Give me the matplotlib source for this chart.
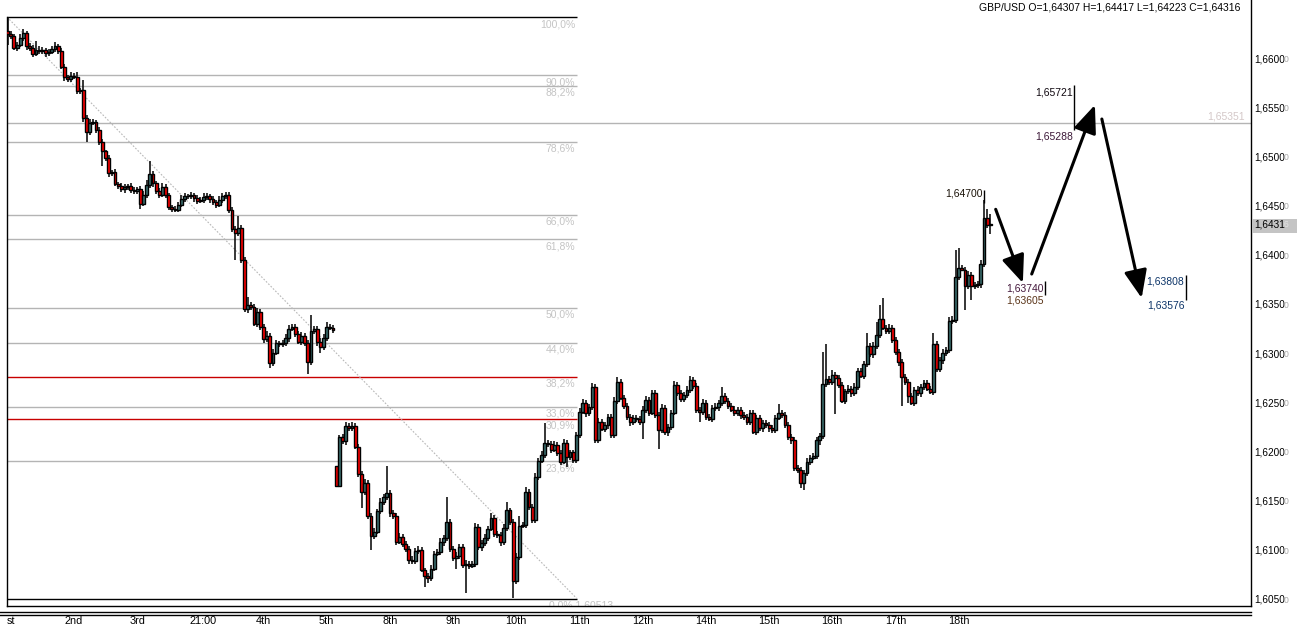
import numpy as np
import matplotlib
matplotlib.use("Agg")
import matplotlib.pyplot as plt
from matplotlib.transforms import blended_transform_factory
from matplotlib.lines import Line2D
from matplotlib.patches import Rectangle

plt.rcParams['font.family'] = ['Liberation Sans', 'DejaVu Sans']

# ---------------- data (prices in pips of 0.0001) ----------------
symbol = "GBP/USD"
last_ohlc = ("1,64307", "1,64417", "1,64223", "1,64316")

opens = [
    16628,16625,16623,16611,16614,16621,16626,16613,16611,16605,16609,16608,16609,16606,16607,16610,16613,16608,16592,16582,
    16580,16583,16582,16567,16569,16540,16526,16535,16536,16528,16516,16506,16499,16484,16485,16473,16471,16468,16470,16471,
    16467,16466,16468,16453,16462,16472,16483,16474,16466,16462,16470,16462,16450,16448,16447,16452,16458,16461,16461,16462,
    16459,16456,16457,16460,16461,16458,16455,16452,16457,16461,16462,16447,16427,16423,16428,16396,16346,16350,16348,16331,
    16343,16328,16315,16318,16291,16301,16311,16310,16311,16316,16326,16328,16320,16312,16318,16311,16292,16323,16326,16312,
    16307,16316,16328,16327,16186,16166,16216,16212,16227,16225,16227,16206,16178,16160,16169,16135,16115,16119,16140,16150,
    16155,16159,16138,16135,16109,16114,16107,16102,16091,16090,16100,16101,16080,16074,16072,16082,16097,16099,16109,16113,
    16129,16102,16093,16095,16104,16086,16087,16085,16087,16124,16104,16108,16113,16122,16133,16117,16116,16109,16123,16141,
    16129,16069,16094,16125,16126,16160,16145,16131,16175,16191,16197,16210,16209,16203,16208,16199,16190,16210,16195,16200,
    16192,16218,16241,16250,16240,16246,16267,16213,16231,16224,16228,16236,16218,16252,16272,16255,16247,16236,16231,16235,
    16234,16231,16243,16253,16240,16260,16238,16223,16245,16221,16226,16240,16269,16260,16254,16258,16264,16274,16268,16243,
    16241,16250,16236,16234,16245,16246,16250,16257,16252,16247,16243,16240,16243,16238,16236,16231,16240,16221,16235,16225,
    16230,16228,16225,16223,16235,16240,16238,16228,16216,16213,16184,16182,16169,16179,16190,16194,16196,16213,16217,16270,
    16275,16272,16279,16276,16269,16252,16262,16265,16260,16267,16283,16278,16290,16308,16300,16308,16319,16336,16327,16323,
    16327,16314,16302,16292,16277,16272,16257,16250,16264,16260,16267,16271,16265,16261,16310,16285,16294,16301,16304,16334,
    16335,16378,16388,16386,16369,16380,16369,16370,16371,16392,16438,16431]

closes = [
    16625,16623,16611,16614,16621,16626,16613,16611,16605,16609,16608,16609,16606,16607,16610,16613,16608,16592,16582,16580,
    16583,16582,16567,16569,16540,16526,16535,16536,16528,16516,16506,16499,16484,16485,16473,16471,16468,16470,16471,16467,
    16466,16468,16453,16462,16472,16483,16474,16466,16462,16470,16462,16450,16448,16447,16452,16458,16461,16461,16462,16459,
    16456,16457,16460,16461,16458,16455,16452,16457,16461,16462,16447,16427,16423,16428,16396,16346,16350,16348,16331,16343,
    16328,16315,16318,16291,16301,16311,16310,16311,16316,16326,16328,16320,16312,16318,16311,16292,16323,16326,16312,16307,
    16316,16328,16327,16324,16166,16216,16212,16227,16225,16227,16206,16178,16160,16169,16135,16115,16119,16140,16150,16155,
    16159,16138,16135,16109,16114,16107,16102,16091,16090,16100,16101,16080,16074,16072,16082,16097,16099,16109,16113,16129,
    16102,16093,16095,16104,16086,16087,16085,16087,16124,16104,16108,16113,16122,16133,16117,16116,16109,16123,16141,16129,
    16069,16094,16125,16126,16160,16145,16131,16175,16191,16197,16210,16209,16203,16208,16199,16190,16210,16195,16200,16192,
    16218,16241,16250,16240,16246,16267,16213,16231,16224,16228,16236,16218,16252,16272,16255,16247,16236,16231,16235,16234,
    16231,16243,16253,16240,16260,16238,16223,16245,16221,16226,16240,16269,16260,16254,16258,16264,16274,16268,16243,16241,
    16250,16236,16234,16245,16246,16250,16257,16252,16247,16243,16240,16243,16238,16236,16231,16240,16221,16235,16225,16230,
    16228,16225,16223,16235,16240,16238,16228,16216,16213,16184,16182,16169,16179,16190,16194,16196,16213,16217,16270,16275,
    16272,16279,16276,16269,16252,16262,16265,16260,16267,16283,16278,16290,16308,16300,16308,16319,16336,16327,16323,16327,
    16314,16302,16292,16277,16272,16257,16250,16264,16260,16267,16271,16265,16261,16310,16285,16294,16301,16304,16334,16335,
    16378,16388,16386,16369,16380,16369,16370,16371,16392,16438,16431,16432]

upper_wick = [
    15,3,2,3,4,5,2,3,3,9,4,3,2,3,3,4,2,3,3,2,
    4,3,5,2,10,3,4,3,2,3,3,2,3,2,3,2,3,3,2,3,
    3,2,3,4,5,13,3,2,3,4,3,2,2,3,3,4,3,2,3,2,
    3,3,4,3,2,3,2,4,3,3,3,3,3,12,3,3,8,3,3,4,
    3,3,5,3,4,3,2,3,4,4,3,3,3,4,3,3,17,3,3,4,
    4,5,3,3,0,2,3,4,3,4,3,3,3,4,3,3,4,3,4,3,
    27,3,3,3,4,3,3,3,4,3,4,3,3,3,4,3,3,4,3,26,
    3,3,4,3,3,4,3,3,4,3,3,4,3,5,3,3,3,4,9,3,
    3,4,10,3,5,3,3,4,3,4,20,3,3,4,3,3,4,3,3,3,
    3,4,4,3,3,4,3,4,3,3,3,3,4,5,3,3,3,3,3,3,
    3,4,4,3,3,3,3,4,3,3,3,4,3,3,3,4,4,3,3,3,
    4,3,3,3,4,3,10,3,3,3,4,3,3,3,3,3,3,3,3,3,
    3,3,3,3,9,3,3,3,3,3,3,3,3,4,3,3,3,3,32,35,
    3,5,3,3,3,3,4,3,4,3,3,3,13,3,4,14,14,21,3,4,
    3,3,3,3,3,3,3,3,4,3,3,3,3,11,3,3,4,3,4,4,
    28,20,3,3,4,3,3,3,4,19,10,10]

lower_wick = [
    11,3,2,3,2,3,4,3,3,2,3,3,4,3,2,3,3,2,4,3,
    3,2,3,3,4,10,3,2,3,3,15,3,4,3,2,3,3,4,3,3,
    3,3,5,2,3,3,4,3,3,2,3,3,4,3,3,2,3,3,3,4,
    3,2,3,3,4,3,3,2,3,3,4,3,27,3,3,3,4,3,2,3,
    3,4,3,5,3,2,3,3,3,4,3,3,2,3,3,12,3,3,4,6,
    3,3,2,3,1,0,3,4,3,3,2,3,16,3,3,14,3,2,3,3,
    3,4,3,3,2,3,3,4,3,3,3,2,11,5,3,3,2,3,4,3,
    3,3,11,3,3,29,3,2,3,3,4,3,3,2,3,3,4,3,3,3,
    17,3,3,2,3,4,3,3,3,2,3,3,4,3,3,3,2,10,3,3,
    3,3,2,4,3,3,3,3,2,3,4,3,3,3,2,3,3,4,3,3,
    3,17,3,3,2,3,19,3,3,4,3,2,3,3,3,3,4,3,3,10,
    3,3,2,3,3,4,3,3,3,2,3,3,4,3,3,3,2,3,3,4,
    3,4,3,3,2,3,3,3,4,3,3,5,7,3,3,2,3,5,3,3,
    3,3,37,3,2,3,3,4,3,3,2,3,3,3,4,3,3,2,3,3,
    3,3,4,30,3,7,2,3,3,4,3,3,2,3,3,3,4,3,3,3,
    3,3,2,24,3,14,3,3,4,3,3,9]

day_labels = ["2nd", "3rd", "21:00", "4th", "5th", "8th", "9th", "10th", "11th",
              "12th", "14th", "15th", "16th", "17th", "18th"]
day_starts = [21, 41, 62, 81, 101, 121, 141, 161, 181, 201, 221, 241, 261, 281, 301]

price_ticks = [1.6050, 1.6100, 1.6150, 1.6200, 1.6250, 1.6300, 1.6350,
               1.6400, 1.6450, 1.6500, 1.6550, 1.6600]

fib_high = 1.66427
fib_low = 1.60513
fib_start_bar = -0.2
fib_end_bar = 180.2
fib_levels = [100.0, 90.0, 88.2, 78.6, 66.0, 61.8, 50.0, 44.0, 38.2, 33.0, 30.9, 23.6, 0.0]
fib_label_texts = ["100,0%", "90,0%", "88,2%", "78,6%", "66,0%", "61,8%", "50,0%",
                   "44,0%", "38,2%", "33,0%", "30,9%", "23,6%", "0,0% 1,60513"]

hline_price = 1.65351
hline_label = "1,65351"

# projection arrows (bar index, price)
arrow_tails = [(312.7, 1.64472), (324.1, 1.63814), (346.3, 1.65390)]
arrow_tips = [(321.3, 1.63723), (344.1, 1.65533), (358.9, 1.63570)]

# ---------------- figure ----------------
W, H = 1298, 631
fig = plt.figure(figsize=(W / 100, H / 100), dpi=100)
fig.patch.set_facecolor("white")
ax = fig.add_axes([7 / W, 25 / H, (1251 - 7) / W, 606 / H])
ax.set_facecolor("white")

o = np.array(opens) / 1e4
c = np.array(closes) / 1e4
hi = np.maximum(o, c) + np.array(upper_wick) / 1e4
lo = np.minimum(o, c) - np.array(lower_wick) / 1e4
x = np.arange(len(c))

YMIN, YMAX = 1.60439, 1.6660
ax.set_xlim(-0.19, 393.5)
ax.set_ylim(YMIN, YMAX)

FS = 7.5
GRID_GRAY = "#b4b4b4"
LABEL_GRAY = "#c4c4c4"

# fib lines
for lvl, txt in zip(fib_levels, fib_label_texts):
    p = fib_low + (fib_high - fib_low) * lvl / 100.0
    if lvl in (100.0, 0.0):
        col = "black"
    elif lvl in (38.2, 30.9):
        col = "#c80000"
    else:
        col = GRID_GRAY
    ax.hlines(p, fib_start_bar, fib_end_bar, color=col, lw=1.0, zorder=1)
    if lvl == 0.0:
        ax.annotate(txt, xy=(fib_end_bar, p), xytext=(-28, -2), textcoords="offset pixels",
                    ha="left", va="top", fontsize=FS, color=LABEL_GRAY, clip_on=True,
                    annotation_clip=False, zorder=2)
    else:
        ax.annotate(txt, xy=(fib_end_bar, p), xytext=(-2, -2), textcoords="offset pixels",
                    ha="right", va="top", fontsize=FS, color=LABEL_GRAY, zorder=2)

# fib trend line
ax.plot([fib_start_bar, fib_end_bar], [fib_high, fib_low], color="#b8b8b8", lw=0.8,
        ls=(0, (1.5, 1.5)), zorder=1)

# full-width horizontal level
ax.axhline(hline_price, color=GRID_GRAY, lw=1.0, zorder=1)
ax.annotate(hline_label, xy=(1.0, hline_price), xycoords=("axes fraction", "data"),
            xytext=(-6, 1), textcoords="offset pixels", ha="right", va="bottom",
            fontsize=FS, color="#d4c8c8")

# candles
ax.vlines(x, lo, hi, colors="black", lw=1.1, zorder=3)
bull = c >= o
body_col = np.where(bull, "#3b6e6e", "#ff0000")
heights = np.abs(c - o)
heights = np.where(heights < 1e-5, 1e-5, heights)
ax.bar(x, heights, bottom=np.minimum(o, c), width=0.9, color=body_col,
       edgecolor="black", linewidth=1.0, zorder=4)

# arrows
for (tx, ty), (hx, hy) in zip(arrow_tails, arrow_tips):
    ax.annotate("", xy=(hx, hy), xytext=(tx, ty),
                arrowprops=dict(arrowstyle="-|>,head_length=0.85,head_width=0.35",
                                color="black", lw=2.2, mutation_scale=20,
                                shrinkA=0, shrinkB=0), zorder=6)

# price annotations
def note(txt, bar, price, color, ha="right"):
    ax.text(bar, price, txt, ha=ha, va="center", fontsize=FS, color=color, zorder=6)

note("1,64700", 308.7, 1.64628, "#1a1208")
ax.vlines(309.1, 1.64537, 1.64670, colors="black", lw=1.0, zorder=6)
note("1,65721", 337.2, 1.65655, "#100810")
note("1,65288", 337.2, 1.65217, "#3c1838")
ax.vlines(337.5, 1.65278, 1.65735, colors="black", lw=1.0, zorder=6)
note("1,63740", 327.8, 1.63662, "#44183c")
note("1,63605", 327.8, 1.63540, "#5a3418")
ax.vlines(328.3, 1.63600, 1.63743, colors="black", lw=1.0, zorder=6)
note("1,63808", 372.4, 1.63733, "#0c3468")
note("1,63576", 372.4, 1.63499, "#0c3468")
ax.vlines(372.9, 1.63550, 1.63804, colors="black", lw=1.0, zorder=6)

# spines / ticks
for s in ["left", "bottom", "right"]:
    ax.spines[s].set_color("black")
    ax.spines[s].set_linewidth(1.0)
ax.spines["top"].set_visible(False)
ax.spines["left"].set_bounds(YMIN, fib_high)
ax.set_xticks([])
ax.set_yticks([])

# right price axis labels (main digits + small pipette digit)
ty = blended_transform_factory(fig.transFigure, ax.transData)
for p in price_ticks:
    s = f"{p:.4f}".replace(".", ",")
    fig.text(1254 / W, p, s, transform=ty, ha="left", va="center", fontsize=7.2, color="black")
    fig.text(1284 / W, p - 0.00003, "0", transform=ty, ha="left", va="center", fontsize=6.2,
             color="#a8a8a8")

# current price box
last_close = c[-1]
box = Rectangle((1252 / W, (H - 226 - 7) / H), 45 / W, 14 / H, transform=fig.transFigure,
                facecolor="#c4c4c4", edgecolor="none")
fig.add_artist(box)
fig.text(1254 / W, last_close, "1,6431", transform=ty, ha="left", va="center", fontsize=7.2, color="black")
fig.text(1284 / W, last_close - 0.00003, "6", transform=ty, ha="left", va="center", fontsize=6.2,
         color="#e4e4e4")

# header
fig.text(1240 / W, 1 - 8 / H, f"{symbol} O={last_ohlc[0]} H={last_ohlc[1]} L={last_ohlc[2]} C={last_ohlc[3]}",
         ha="right", va="center", fontsize=FS, color="black")

# bottom double line
for yy in (612, 615):
    fig.add_artist(Line2D([0, 1251 / W], [1 - yy / H, 1 - yy / H], color="black", lw=1.0,
                          transform=fig.transFigure))

# date labels
tx = blended_transform_factory(ax.transData, fig.transFigure)
fig.text(7 / W, 1 - 621 / H, "st", ha="left", va="center", fontsize=7.8, color="black")
for lab, b in zip(day_labels, day_starts):
    fig.text(b, 1 - 621 / H, lab, transform=tx, ha="center", va="center", fontsize=7.8, color="black")

fig.savefig("out.png", dpi=100, facecolor="white")
